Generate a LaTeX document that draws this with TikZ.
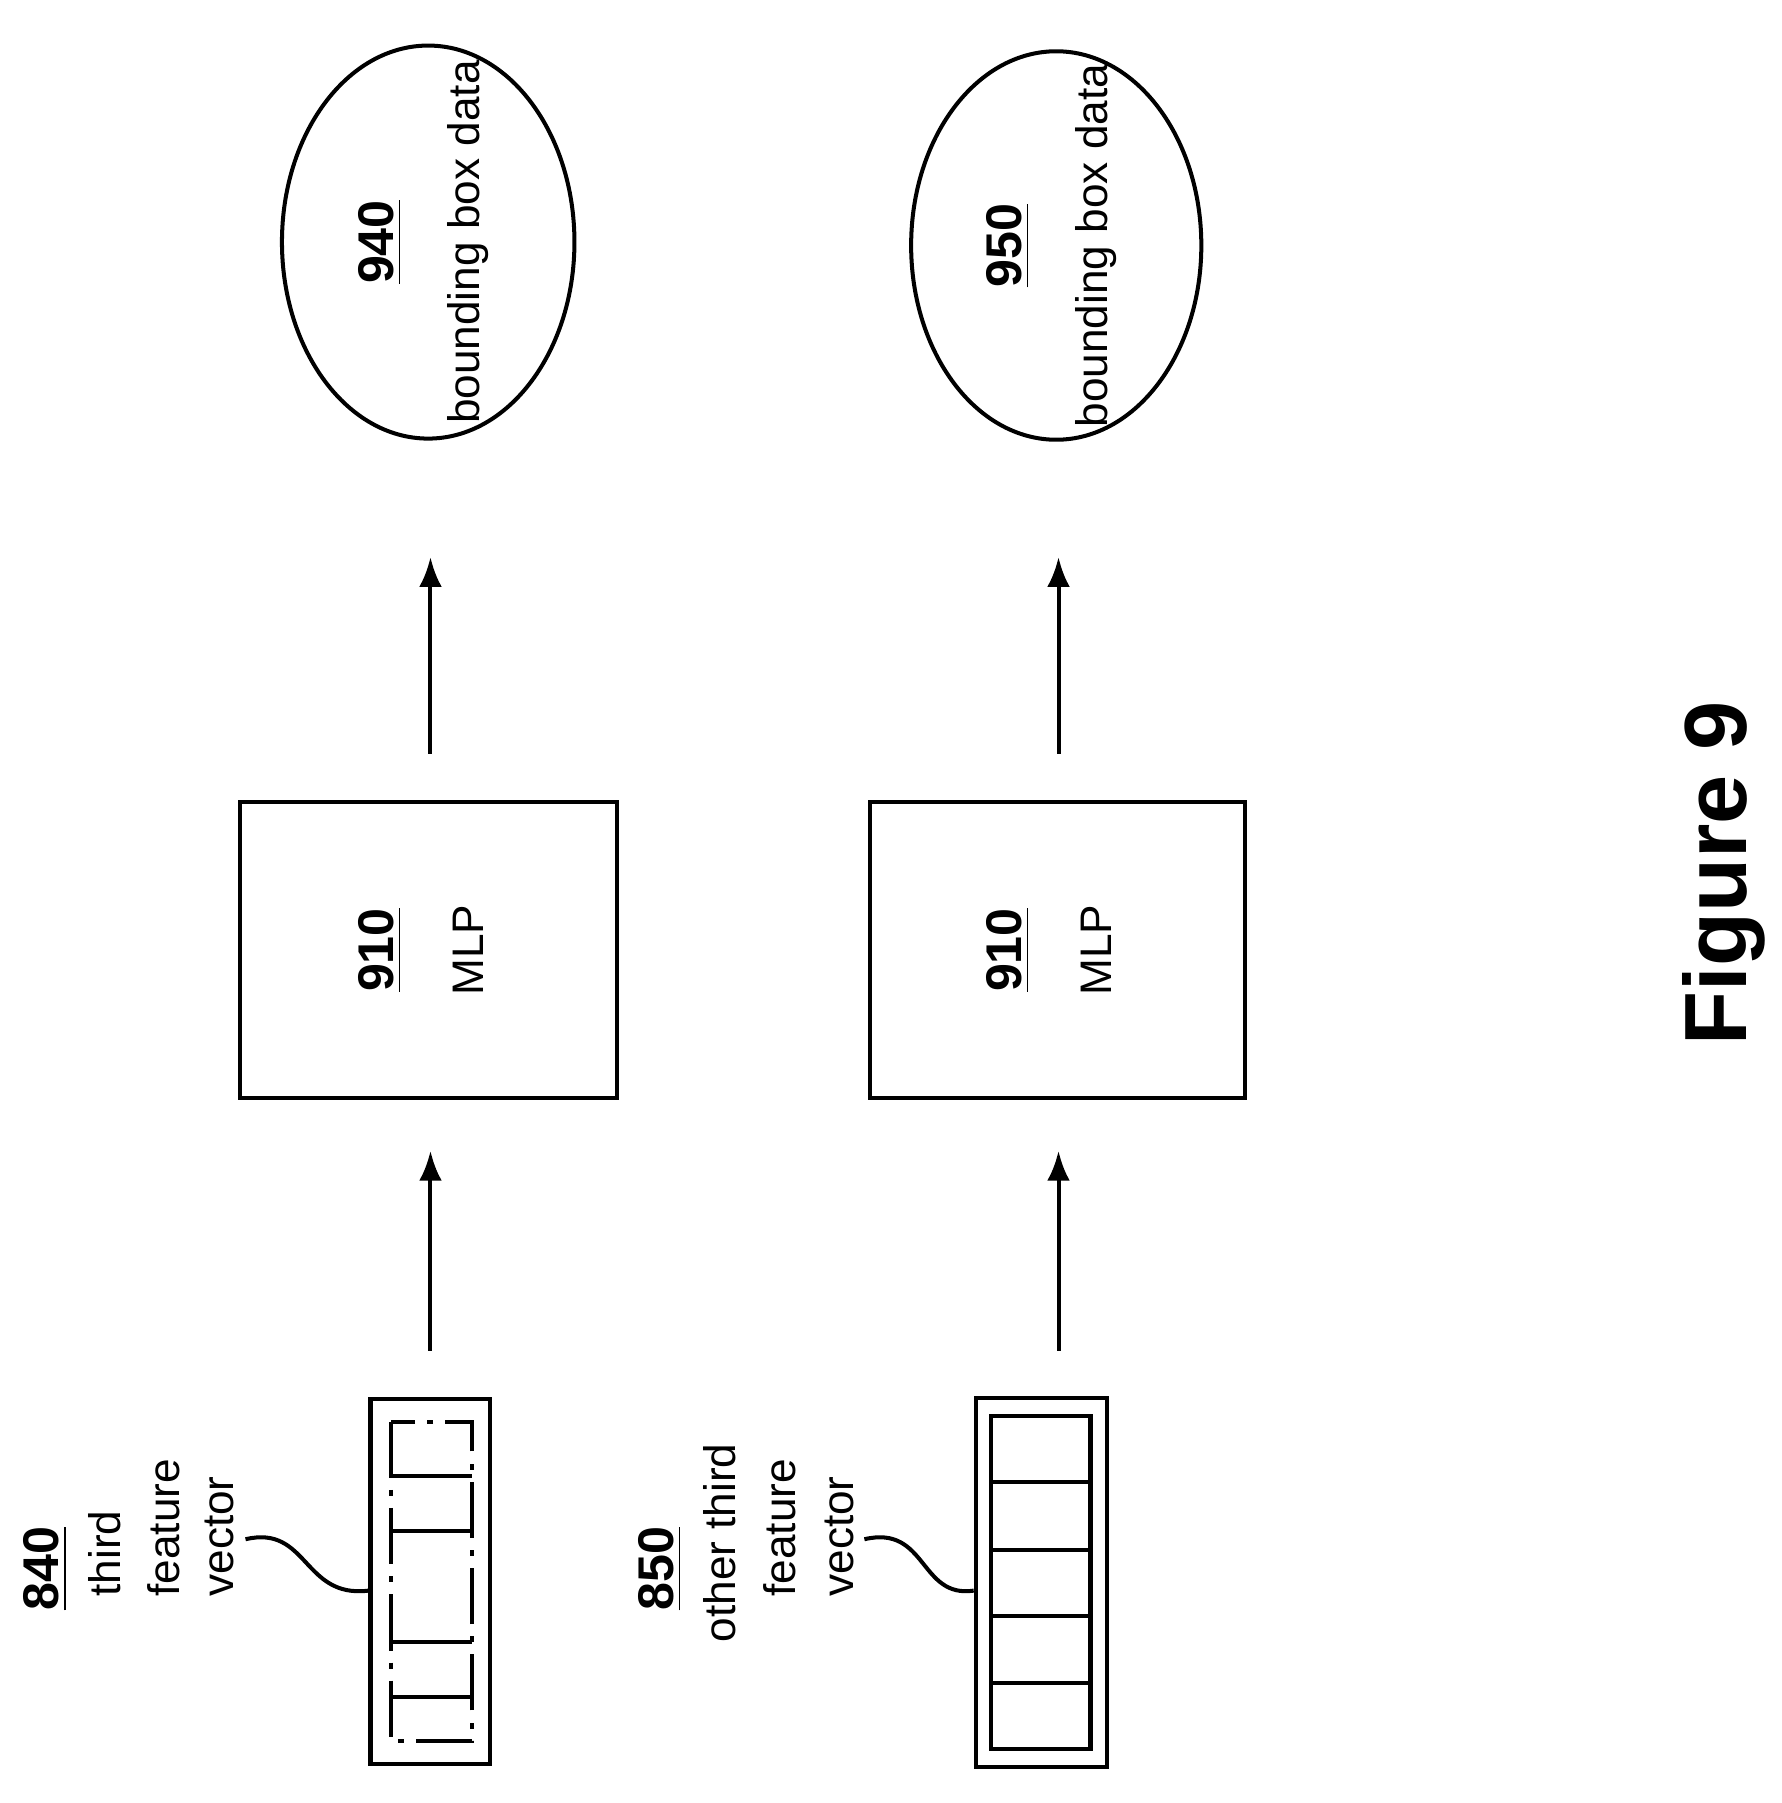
\documentclass[tikz,border=0pt]{standalone}
\usepackage{fontspec}
\setmainfont{Liberation Sans}
\usetikzlibrary{arrows.meta,shapes.geometric}
\begin{document}
\begin{tikzpicture}[x=0.01cm,y=-0.01cm,line width=1pt,
  txt/.style={rotate=90,font=\fontsize{11}{13}\selectfont,inner sep=0pt},
  num/.style={rotate=90,font=\fontsize{12.5}{14}\selectfont\bfseries,inner sep=0pt},
  arr/.style={-{Latex[length=0.26cm,width=0.2cm]}},
  blk/.style={draw,rectangle},
  ell/.style={draw,ellipse}]
\useasboundingbox (0,0) rectangle (1560,1579);
% ellipses
\node[ell,minimum width=2.56cm,minimum height=3.44cm] (e940) at (375,212) {};
\node[num] (n940) at (333,212) {\underline{940}};
\node[txt] (t940) at (410,212) {bounding box data};
\node[ell,minimum width=2.54cm,minimum height=3.40cm] (e950) at (925,215) {};
\node[num] (n950) at (883,215) {\underline{950}};
\node[txt] (t950) at (960,215) {bounding box data};
% MLP boxes
\node[blk,minimum width=3.30cm,minimum height=2.59cm] (m1) at (375,832) {};
\node[num] (n910a) at (333,832) {\underline{910}};
\node[txt] (t910a) at (410,832) {MLP};
\node[blk,minimum width=3.28cm,minimum height=2.59cm] (m2) at (926,832) {};
\node[num] (n910b) at (883,832) {\underline{910}};
\node[txt] (t910b) at (960,832) {MLP};
% vectors
\node[blk,minimum width=1.05cm,minimum height=3.20cm] (v1) at (377,1385) {};
\node[blk,minimum width=1.15cm,minimum height=3.23cm] (v2) at (912,1386) {};
\draw[dash pattern=on 14pt off 3pt on 1.5pt off 3pt] (342,1245) rectangle (413,1525);
\foreach \yy in {1341,1438,1486} \draw (342,\yy) -- (413,\yy);
\draw (342,1293) -- (413,1293);
\draw (868,1240) rectangle (955,1532);
\foreach \yy in {1298,1357,1415,1474} \draw (868,\yy) -- (955,\yy);
% arrows
\coordinate (a1s) at (377,1183); \coordinate (a2s) at (927,1183);
\draw[arr] (a1s) -- (377,1008);
\draw[arr] (a2s) -- (927,1008);
\coordinate (b1s) at (377,660); \coordinate (b2s) at (927,660);
\draw[arr] (b1s) -- (377,488);
\draw[arr] (b2s) -- (927,488);
% labels
\node[num,anchor=west] (n840) at (40,1412) {\underline{840}};
\node[txt,anchor=west] (l840a) at (92,1400) {third};
\node[txt,anchor=west] (l840b) at (143,1400) {feature};
\node[txt,anchor=west] (l840c) at (192,1400) {vector};
\node[num,anchor=west] (n850) at (578,1412) {\underline{850}};
\node[txt,anchor=west] (l850a) at (630,1440) {other third};
\node[txt,anchor=west] (l850b) at (683,1400) {feature};
\node[txt,anchor=west] (l850c) at (735,1400) {vector};
\coordinate (c1) at (215,1348);
\coordinate (c2) at (757,1348);
\draw (c1) .. controls (270,1335) and (265,1400) .. (v1.west |- 0,1393);
\draw (c2) .. controls (812,1335) and (805,1400) .. (v2.west |- 0,1393);
\node[rotate=90,font=\fontsize{22}{26}\selectfont\bfseries,inner sep=0pt] (fig) at (1510,765) {Figure 9};
\end{tikzpicture}
\end{document}
